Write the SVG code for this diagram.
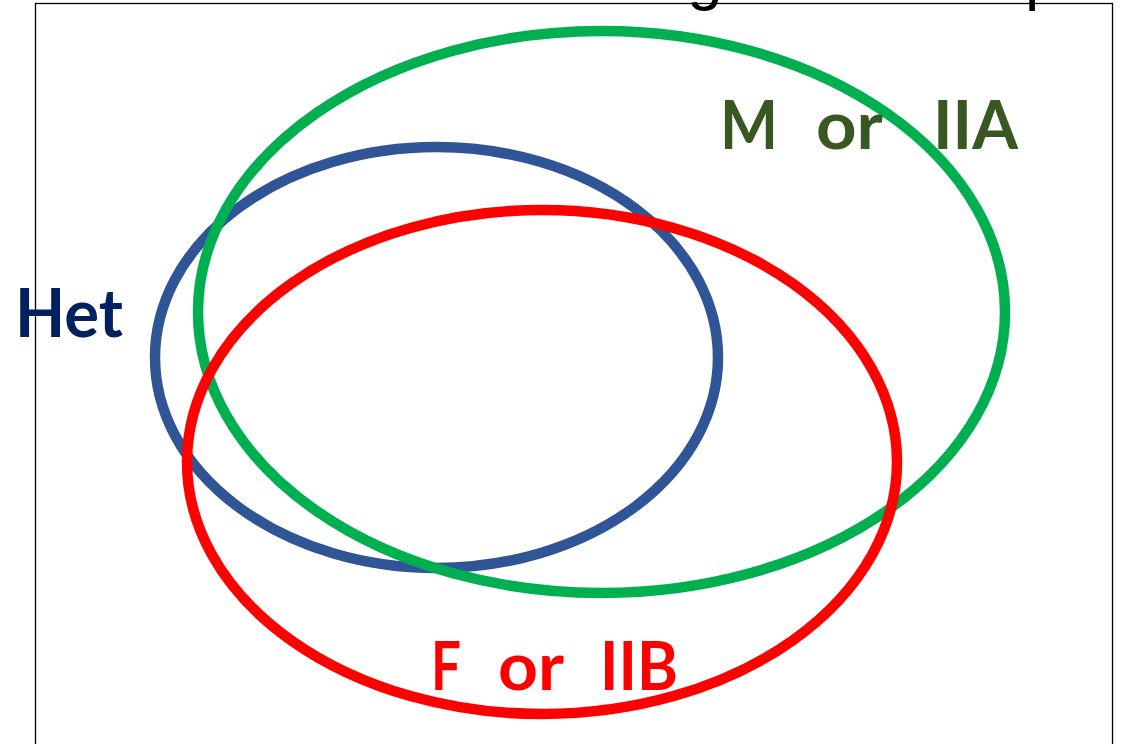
<svg xmlns="http://www.w3.org/2000/svg" width="1122" height="744" viewBox="0 0 1122 744">
<style>
.ring{fill:none;stroke-width:10.5}
.lbl{font-family:Lato,"Open Sans","Liberation Sans",sans-serif;font-weight:bold;font-size:66px}
.title{font-family:"Liberation Sans",Arial,sans-serif;font-size:64px;fill:#000}
</style>
<rect width="1122" height="744" fill="#fff"/>
<rect x="35.5" y="3.5" width="1077" height="760" fill="none" stroke="#000" stroke-width="1.3"/>
<text class="title" y="-2"><tspan x="687">g</tspan><tspan x="1025">p</tspan></text>
<g id="het">
<ellipse class="ring" cx="436.5" cy="357.5" rx="281.5" ry="210.5" stroke="#2F5597"/>
<text class="lbl" x="15" y="337" fill="#002060" textLength="108" lengthAdjust="spacingAndGlyphs">Het</text>
</g>
<g id="m-iia">
<ellipse class="ring" cx="601.5" cy="312" rx="403.5" ry="281" stroke="#00B050"/>
<text class="lbl" y="149" fill="#385723"><tspan x="720" textLength="58" lengthAdjust="spacingAndGlyphs">M</tspan><tspan x="816" textLength="67" lengthAdjust="spacingAndGlyphs">or</tspan><tspan x="933" textLength="85" lengthAdjust="spacingAndGlyphs">IIA</tspan></text>
</g>
<g id="f-iib">
<ellipse class="ring" cx="542" cy="462" rx="355" ry="252" stroke="#FF0000"/>
<text class="lbl" y="690" fill="#FF0000"><tspan x="431" textLength="30" lengthAdjust="spacingAndGlyphs">F</tspan><tspan x="498" textLength="66" lengthAdjust="spacingAndGlyphs">or</tspan><tspan x="600" textLength="78" lengthAdjust="spacingAndGlyphs">IIB</tspan></text>
</g>
<g id="connectors"/>
</svg>
